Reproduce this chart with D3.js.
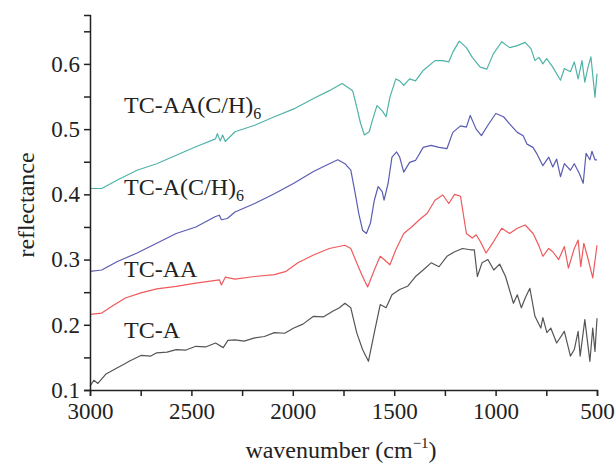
<!DOCTYPE html>
<html><head><meta charset="utf-8">
<script src="https://cdn.jsdelivr.net/npm/d3@7"></script>
<style>body{margin:0;background:#fff;} text{font-family:"Liberation Serif","Times New Roman",serif;}</style>
</head><body>
<svg id="c" width="615" height="464"></svg>
<script>
// TC-A (black)
const tcA_wn = [3000,2981,2961,2923,2865,2830,2807,2749,2700,2671,2620,2575,2530,2478,2430,2381,2343,2320,2285,2240,2188,2140,2091,2040,1995,1950,1898,1850,1801,1770,1743,1714,1685,1656,1627,1598,1569,1540,1511,1473,1434,1395,1357,1318,1279,1240,1202,1163,1125,1105,1090,1067,1038,1009,980,951,912,893,873,854,831,806,777,767,747,728,699,661,631,612,593,583,560,535,521,510,500];
const tcA_val = [0.106,0.115,0.110,0.124,0.134,0.140,0.144,0.153,0.152,0.157,0.158,0.162,0.161,0.167,0.166,0.172,0.165,0.176,0.177,0.175,0.180,0.182,0.188,0.187,0.195,0.201,0.213,0.212,0.221,0.226,0.233,0.226,0.188,0.162,0.144,0.188,0.231,0.226,0.246,0.254,0.259,0.274,0.284,0.295,0.289,0.305,0.312,0.317,0.315,0.315,0.274,0.295,0.300,0.284,0.293,0.274,0.233,0.246,0.226,0.241,0.256,0.213,0.195,0.211,0.188,0.195,0.172,0.190,0.152,0.162,0.190,0.152,0.208,0.144,0.195,0.159,0.210];
// TC-AA (red)
const tcAA_wn = [3000,2942,2903,2826,2749,2671,2575,2478,2362,2352,2333,2285,2188,2091,2033,1975,1898,1820,1743,1714,1685,1656,1631,1598,1569,1550,1521,1492,1453,1414,1376,1337,1299,1260,1231,1202,1173,1144,1115,1096,1076,1047,1009,970,931,893,854,815,786,767,738,718,689,661,641,612,593,580,565,545,521,500];
const tcAA_val = [0.216,0.218,0.226,0.241,0.249,0.255,0.259,0.264,0.269,0.261,0.273,0.270,0.274,0.277,0.282,0.295,0.307,0.317,0.322,0.317,0.295,0.274,0.258,0.284,0.305,0.300,0.292,0.315,0.340,0.350,0.361,0.371,0.391,0.399,0.386,0.400,0.397,0.340,0.333,0.338,0.328,0.310,0.328,0.348,0.340,0.348,0.353,0.340,0.321,0.305,0.317,0.312,0.300,0.320,0.287,0.317,0.330,0.289,0.325,0.302,0.272,0.322];
// TC-A(C/H)6 (blue)
const tcACH_wn = [3000,2942,2865,2768,2671,2575,2478,2381,2362,2352,2323,2285,2188,2091,1995,1898,1820,1778,1743,1714,1695,1675,1656,1637,1617,1598,1579,1559,1550,1530,1511,1488,1473,1453,1424,1395,1357,1318,1279,1240,1211,1173,1144,1125,1096,1070,1038,999,961,931,893,864,845,816,796,767,738,718,699,680,661,631,612,587,568,554,535,525,510,500];
const tcACH_val = [0.282,0.284,0.297,0.310,0.325,0.340,0.350,0.366,0.368,0.361,0.363,0.373,0.386,0.401,0.417,0.435,0.447,0.453,0.447,0.437,0.406,0.371,0.345,0.340,0.356,0.391,0.412,0.404,0.391,0.417,0.457,0.465,0.457,0.434,0.449,0.452,0.472,0.475,0.472,0.470,0.495,0.505,0.503,0.521,0.500,0.490,0.506,0.524,0.519,0.508,0.495,0.490,0.477,0.472,0.462,0.444,0.457,0.442,0.454,0.427,0.447,0.437,0.447,0.432,0.417,0.463,0.453,0.466,0.453,0.453];
// TC-AA(C/H)6 (teal)
const tcAACH_wn = [3000,2942,2865,2768,2671,2575,2478,2381,2372,2358,2346,2333,2285,2188,2091,1995,1898,1820,1757,1724,1705,1685,1666,1647,1623,1608,1585,1559,1540,1521,1492,1473,1453,1424,1395,1357,1299,1260,1231,1211,1179,1144,1115,1076,1043,1012,970,931,893,854,825,806,786,767,748,718,680,661,631,612,593,574,560,545,530,510,500];
const tcAACH_val = [0.409,0.409,0.422,0.437,0.447,0.460,0.473,0.485,0.493,0.482,0.491,0.481,0.496,0.506,0.519,0.531,0.547,0.559,0.570,0.563,0.559,0.534,0.509,0.491,0.496,0.513,0.536,0.528,0.519,0.549,0.577,0.574,0.567,0.577,0.574,0.590,0.605,0.605,0.603,0.618,0.635,0.625,0.610,0.595,0.592,0.615,0.634,0.625,0.628,0.633,0.623,0.605,0.610,0.600,0.608,0.595,0.575,0.593,0.588,0.603,0.577,0.605,0.572,0.594,0.611,0.549,0.585];

const seriesNames = ["TC-A","TC-AA","TC-A(C/H)","TC-AA(C/H)"];
const seriesSubs = ["","","6","6"];
const seriesColors = ["#555555","#ef5a5c","#5a5cb3","#4fb3a8"];
const xTicks = [3000,2500,2000,1500,1000,500];
const yTicks = [0.1,0.2,0.3,0.4,0.5,0.6];

const series = [
  {wn:tcA_wn, v:tcA_val},
  {wn:tcAA_wn, v:tcAA_val},
  {wn:tcACH_wn, v:tcACH_val},
  {wn:tcAACH_wn, v:tcAACH_val}
];

const svg = d3.select("#c");
const x = d3.scaleLinear().domain([3000,500]).range([90,597]);
const y = d3.scaleLinear().domain([0.1,0.675]).range([390,15]);

// lines
const line = d3.line().x(d=>x(d[0])).y(d=>y(d[1]));
series.forEach((s,i)=>{
  const pts = s.wn.map((w,j)=>[w,s.v[j]]);
  svg.append("path").attr("d",line(pts)).attr("fill","none")
    .attr("stroke",seriesColors[i]).attr("stroke-width",1.2).attr("stroke-linejoin","round");
});

// axes
const xAxis = d3.axisBottom(x).tickValues(d3.range(3000,499,-250)).tickSize(6)
  .tickFormat(d=> xTicks.includes(d)? d : "");
const gx = svg.append("g").attr("transform","translate(0,390)").call(xAxis);
gx.select(".domain").attr("stroke","#222").attr("stroke-width",1.5);
gx.selectAll("line").attr("stroke","#222").attr("stroke-width",1.5);
gx.selectAll("text").attr("font-size",23).attr("fill","#222").attr("dy","0.85em")
  .style("font-family","'Liberation Serif',serif");

const yAxis = d3.axisLeft(y).tickValues(d3.range(0.1,0.67,0.05).map(v=>+v.toFixed(2))).tickSize(6)
  .tickFormat(d=> yTicks.some(t=>Math.abs(t-d)<1e-6)? d3.format(".1f")(d) : "");
const gy = svg.append("g").attr("transform","translate(90,0)").call(yAxis);
gy.select(".domain").attr("stroke","#222").attr("stroke-width",1.5);
gy.selectAll("line").attr("stroke","#222").attr("stroke-width",1.5);
gy.selectAll("text").attr("font-size",23).attr("fill","#222").attr("x",-10)
  .style("font-family","'Liberation Serif',serif");

// axis titles
const xt = svg.append("text").attr("x",341).attr("y",458).attr("text-anchor","middle")
  .attr("font-size",24).attr("fill","#222");
xt.append("tspan").text("wavenumber (cm");
xt.append("tspan").attr("font-size",15).attr("dy",-10).text("−1");
xt.append("tspan").attr("dy",10).text(")");

svg.append("text").attr("transform","translate(34,205) rotate(-90)").attr("text-anchor","middle")
  .attr("font-size",24).attr("fill","#222").text("reflectance");

// series labels
const labelY = [338,277,195,113];
seriesNames.forEach((n,i)=>{
  const t = svg.append("text").attr("x",124).attr("y",labelY[i]).attr("font-size",24).attr("fill","#222");
  t.append("tspan").text(n);
  if(seriesSubs[i]) t.append("tspan").attr("font-size",16).attr("dy",6).text(seriesSubs[i]);
});
</script>
</body></html>
